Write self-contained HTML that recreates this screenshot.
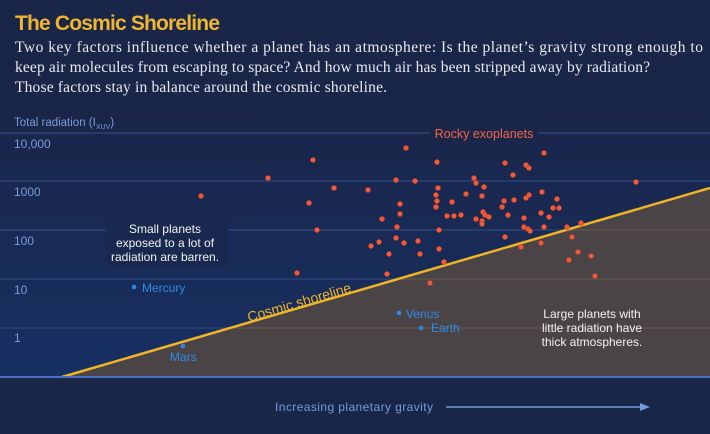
<!DOCTYPE html>
<html><head><meta charset="utf-8"><style>
body{margin:0;background:#1a2648;}
svg{display:block}
</style></head><body>
<svg width="710" height="434" xmlns="http://www.w3.org/2000/svg">
<defs>
<linearGradient id="bg" x1="0" y1="0" x2="0" y2="1">
<stop offset="0" stop-color="#1a2548"/><stop offset="1" stop-color="#173063"/>
</linearGradient>
<clipPath id="cp"><polygon points="62,377 710,188 710,377"/></clipPath>
</defs>
<rect width="710" height="434" fill="#1a2648"/>
<rect x="0" y="110" width="710" height="267" fill="url(#bg)"/>
<g stroke="#2a4277" stroke-width="1.5">
<line x1="0" y1="133" x2="710" y2="133"/>
<line x1="0" y1="181" x2="710" y2="181"/>
<line x1="0" y1="230" x2="710" y2="230"/>
<line x1="0" y1="279" x2="710" y2="279"/>
<line x1="0" y1="328" x2="710" y2="328"/>
</g>
<polygon points="62,377 710,188 710,377" fill="#4a4447"/>
<g stroke="#6b5a45" stroke-width="1" clip-path="url(#cp)">
<line x1="0" y1="230" x2="710" y2="230"/>
<line x1="0" y1="279" x2="710" y2="279"/>
<line x1="0" y1="328" x2="710" y2="328"/>
</g>
<line x1="62" y1="377" x2="710" y2="188" stroke="#f0b429" stroke-width="2.5"/>
<line x1="0" y1="377" x2="710" y2="377" stroke="#4a72c4" stroke-width="2"/>
<g font-family="Liberation Sans, sans-serif">
<text x="15" y="30" font-size="21" font-weight="bold" fill="#f0b52f" textLength="205">The Cosmic Shoreline</text>
<g font-family="Liberation Serif, serif" font-size="15.5" fill="#e8e8ee">
<text x="15" y="52" textLength="688" lengthAdjust="spacing">Two key factors influence whether a planet has an atmosphere: Is the planet’s gravity strong enough to</text>
<text x="15" y="72" textLength="635" lengthAdjust="spacing">keep air molecules from escaping to space? And how much air has been stripped away by radiation?</text>
<text x="15" y="92" textLength="372" lengthAdjust="spacing">Those factors stay in balance around the cosmic shoreline.</text>
</g>
<text x="14" y="126" font-size="11.5" fill="#7b9bd8">Total radiation (I<tspan font-size="7" dy="3">XUV</tspan><tspan dy="-3">)</tspan></text>
<g font-size="12" fill="#7b9bd8">
<text x="14" y="148">10,000</text>
<text x="14" y="196">1000</text>
<text x="14" y="245">100</text>
<text x="14" y="294">10</text>
<text x="14" y="342">1</text>
</g>
<rect x="106" y="218" width="122" height="48" fill="#19284f"/>
<g font-size="12" fill="#f2f2f2" text-anchor="middle">
<text x="165" y="233">Small planets</text>
<text x="165" y="247">exposed to a lot of</text>
<text x="165" y="261">radiation are barren.</text>
</g>
<g font-size="12" fill="#f2f2f2" text-anchor="middle">
<text x="592" y="318">Large planets with</text>
<text x="592" y="332">little radiation have</text>
<text x="592" y="346">thick atmospheres.</text>
</g>
<rect x="430" y="124" width="108" height="18" fill="#1a2548"/>
<text x="484" y="138" font-size="12.5" fill="#ef6748" text-anchor="middle">Rocky exoplanets</text>
<text x="0" y="0" font-size="14" fill="#f0b429" transform="translate(249,322) rotate(-16.3)">Cosmic shoreline</text>
<g fill="#2e8ae6" font-size="12">
<circle cx="134" cy="287" r="2.3"/><text x="142" y="292">Mercury</text>
<circle cx="183" cy="346" r="2.3"/><text x="170" y="361">Mars</text>
<circle cx="399" cy="313" r="2.3"/><text x="406" y="318">Venus</text>
<circle cx="421" cy="328" r="2.3"/><text x="431" y="332">Earth</text>
</g>
<text x="275" y="411" font-size="12" fill="#6f9be0" textLength="158">Increasing planetary gravity</text>
<line x1="446" y1="407" x2="642" y2="407" stroke="#6f9be0" stroke-width="1.5"/>
<polygon points="650,407 640,403 640,411" fill="#6f9be0"/>
</g>
<g fill="#f05a3c" stroke="#a83a28" stroke-width="0.5">
<circle cx="201" cy="196" r="2.6"/><circle cx="268" cy="178" r="2.6"/><circle cx="313" cy="160" r="2.6"/><circle cx="334" cy="188" r="2.6"/><circle cx="309" cy="203" r="2.6"/><circle cx="317" cy="230" r="2.6"/><circle cx="297" cy="273" r="2.6"/>
<circle cx="406" cy="148" r="2.6"/><circle cx="544" cy="153" r="2.6"/><circle cx="437" cy="162" r="2.6"/><circle cx="505" cy="163" r="2.6"/><circle cx="526" cy="165" r="2.6"/><circle cx="529" cy="168" r="2.6"/><circle cx="513" cy="175" r="2.6"/><circle cx="396" cy="180" r="2.6"/><circle cx="415" cy="181" r="2.6"/><circle cx="636" cy="182" r="2.6"/><circle cx="474" cy="178" r="2.6"/><circle cx="476" cy="183" r="2.6"/><circle cx="368" cy="190" r="2.6"/><circle cx="438" cy="188" r="2.6"/><circle cx="484" cy="187" r="2.6"/><circle cx="466" cy="194" r="2.6"/><circle cx="436" cy="195" r="2.6"/><circle cx="482" cy="196" r="2.6"/><circle cx="542" cy="192" r="2.6"/><circle cx="529" cy="195" r="2.6"/><circle cx="526" cy="198" r="2.6"/><circle cx="504" cy="201" r="2.6"/><circle cx="514" cy="200" r="2.6"/><circle cx="557" cy="199" r="2.6"/><circle cx="437" cy="201" r="2.6"/><circle cx="452" cy="202" r="2.6"/><circle cx="400" cy="204" r="2.6"/><circle cx="436" cy="207" r="2.6"/><circle cx="502" cy="207" r="2.6"/><circle cx="553" cy="208" r="2.6"/><circle cx="559" cy="208" r="2.6"/><circle cx="400" cy="214" r="2.6"/><circle cx="483" cy="212" r="2.6"/><circle cx="485" cy="215" r="2.6"/><circle cx="489" cy="217" r="2.6"/><circle cx="447" cy="216" r="2.6"/><circle cx="454" cy="216" r="2.6"/><circle cx="461" cy="215" r="2.6"/><circle cx="508" cy="215" r="2.6"/><circle cx="541" cy="213" r="2.6"/><circle cx="549" cy="217" r="2.6"/><circle cx="382" cy="219" r="2.6"/><circle cx="476" cy="219" r="2.6"/><circle cx="482" cy="221" r="2.6"/><circle cx="482" cy="224" r="2.6"/><circle cx="524" cy="218" r="2.6"/><circle cx="397" cy="227" r="2.6"/><circle cx="439" cy="230" r="2.6"/><circle cx="524" cy="227" r="2.6"/><circle cx="528" cy="229" r="2.6"/><circle cx="530" cy="231" r="2.6"/><circle cx="544" cy="227" r="2.6"/><circle cx="567" cy="227" r="2.6"/><circle cx="581" cy="223" r="2.6"/><circle cx="572" cy="237" r="2.6"/><circle cx="505" cy="237" r="2.6"/><circle cx="396" cy="238" r="2.6"/><circle cx="379" cy="242" r="2.6"/><circle cx="371" cy="246" r="2.6"/><circle cx="404" cy="243" r="2.6"/><circle cx="418" cy="241" r="2.6"/><circle cx="521" cy="247" r="2.6"/><circle cx="541" cy="243" r="2.6"/><circle cx="439" cy="249" r="2.6"/><circle cx="389" cy="254" r="2.6"/><circle cx="420" cy="254" r="2.6"/><circle cx="578" cy="252" r="2.6"/><circle cx="591" cy="256" r="2.6"/><circle cx="569" cy="260" r="2.6"/><circle cx="444" cy="262" r="2.6"/><circle cx="387" cy="274" r="2.6"/><circle cx="595" cy="276" r="2.6"/><circle cx="430" cy="283" r="2.6"/>
</g>
</svg>
</body></html>
